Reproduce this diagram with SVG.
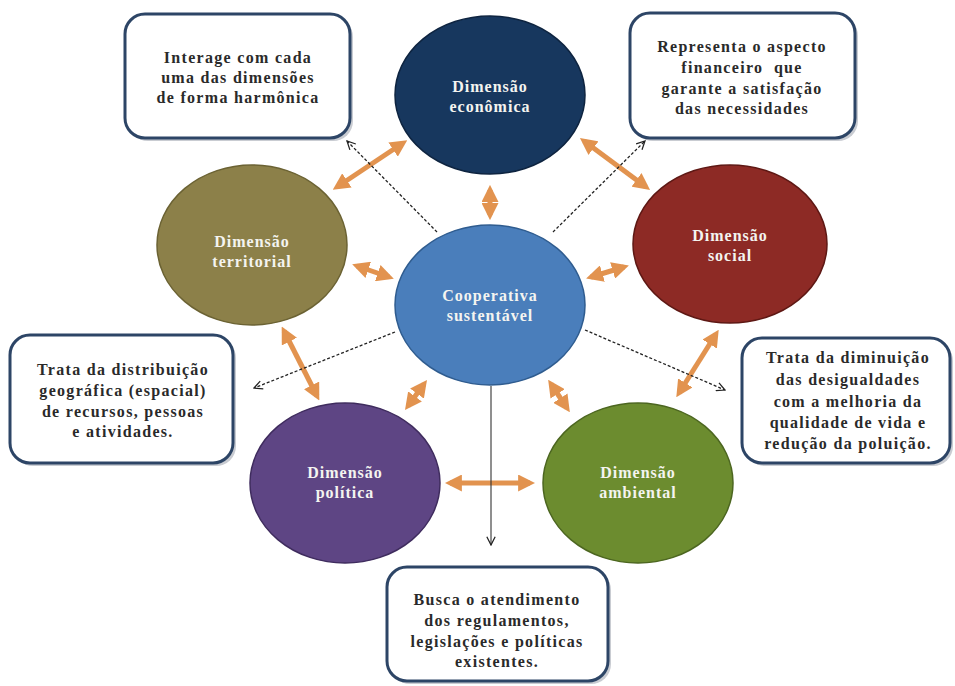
<svg xmlns="http://www.w3.org/2000/svg" width="955" height="686" viewBox="0 0 955 686">
<style>
.box{fill:#fff;stroke:#2d4566;stroke-width:3}
.shadow{fill:#c9ccd2}
.bt{font-family:"Liberation Serif",serif;font-weight:bold;font-size:16px;fill:#2a2a2a;text-anchor:middle;letter-spacing:1.3px}
.et{font-family:"Liberation Serif",serif;font-weight:bold;font-size:16px;fill:#f4f4f0;text-anchor:middle;letter-spacing:1px}
.oa{stroke:#e2934f;stroke-width:5;fill:none;marker-start:url(#oh);marker-end:url(#oh)}
.da{stroke:#222;stroke-width:1.3;fill:none;stroke-dasharray:3 2;marker-end:url(#vh)}
</style>
<defs>
<marker id="oh" viewBox="0 0 10 10" refX="7" refY="5" markerWidth="3.4" markerHeight="3.4" orient="auto-start-reverse" markerUnits="strokeWidth">
<path d="M0,0 L10,5 L0,10 Z" fill="#e2934f"/>
</marker>
<marker id="vh" viewBox="0 0 12 12" refX="11" refY="6" markerWidth="10" markerHeight="10" orient="auto" markerUnits="userSpaceOnUse">
<path d="M1,1 L11,6 L1,11" fill="none" stroke="#222" stroke-width="1.5"/>
</marker>
</defs>
<rect width="955" height="686" fill="#fff"/>

<g id="connectors">
<line class="oa" x1="337" y1="187" x2="403" y2="143"/>
<line class="oa" x1="584" y1="141" x2="646" y2="187"/>
<line class="oa" x1="490" y1="190" x2="490" y2="215"/>
<line class="oa" x1="357" y1="266" x2="389" y2="277"/>
<line class="oa" x1="591" y1="277" x2="624" y2="267"/>
<line class="oa" x1="284" y1="331" x2="317" y2="396"/>
<line class="oa" x1="424" y1="384" x2="408" y2="406"/>
<line class="oa" x1="551" y1="384" x2="567" y2="408"/>
<line class="oa" x1="716" y1="334" x2="679" y2="393"/>
<line class="oa" x1="450" y1="483" x2="530" y2="483"/>
<line class="da" x1="437" y1="232" x2="347" y2="141"/>
<line class="da" x1="553" y1="232" x2="645" y2="141"/>
<line class="da" x1="395" y1="332" x2="254" y2="388"/>
<line class="da" x1="585" y1="330" x2="725" y2="390"/>
<line class="da" x1="491" y1="386" x2="491" y2="545" style="stroke-dasharray:none;stroke:#333;stroke-width:1.1"/>
</g>

<g id="box-tl">
<rect class="shadow" x="128" y="17" width="225" height="124" rx="20"/>
<rect class="box" x="125" y="14" width="225" height="124" rx="20"/>
<text class="bt" x="238" y="63">Interage com cada</text>
<text class="bt" x="238" y="83">uma das dimensões</text>
<text class="bt" x="238" y="103">de forma harmônica</text>
</g>

<g id="box-tr">
<rect class="shadow" x="633" y="16" width="225" height="125" rx="20"/>
<rect class="box" x="630" y="13" width="225" height="125" rx="20"/>
<text class="bt" x="742" y="52">Representa o aspecto</text>
<text class="bt" x="742" y="73" xml:space="preserve">financeiro  que</text>
<text class="bt" x="742" y="94">garante a satisfação</text>
<text class="bt" x="742" y="114">das necessidades</text>
</g>

<g id="box-l">
<rect class="shadow" x="13" y="338" width="223" height="128" rx="20"/>
<rect class="box" x="10" y="335" width="223" height="128" rx="20"/>
<text class="bt" x="123" y="375">Trata da distribuição</text>
<text class="bt" x="123" y="396">geográfica (espacial)</text>
<text class="bt" x="123" y="417">de recursos, pessoas</text>
<text class="bt" x="123" y="437">e atividades.</text>
</g>

<g id="box-r">
<rect class="shadow" x="745" y="341" width="208" height="125" rx="20"/>
<rect class="box" x="742" y="338" width="208" height="125" rx="20"/>
<text class="bt" x="848" y="363">Trata da diminuição</text>
<text class="bt" x="848" y="385">das desigualdades</text>
<text class="bt" x="848" y="407">com a melhoria da</text>
<text class="bt" x="848" y="428">qualidade de vida e</text>
<text class="bt" x="848" y="449">redução da poluição.</text>
</g>

<g id="box-b">
<rect class="shadow" x="390" y="570" width="221" height="114" rx="20"/>
<rect class="box" x="387" y="567" width="221" height="114" rx="20"/>
<text class="bt" x="497" y="605">Busca o atendimento</text>
<text class="bt" x="497" y="626">dos regulamentos,</text>
<text class="bt" x="497" y="647">legislações e políticas</text>
<text class="bt" x="497" y="667">existentes.</text>
</g>

<g id="economica">
<ellipse cx="490" cy="95" rx="95" ry="79" fill="#17375e" stroke="#0e2440" stroke-width="1.5"/>
<text class="et" x="490" y="92">Dimensão</text>
<text class="et" x="490" y="112">econômica</text>
</g>

<g id="territorial">
<ellipse cx="252" cy="245" rx="95" ry="80" fill="#8c8049" stroke="#6b6233" stroke-width="1.5"/>
<text class="et" x="252" y="247">Dimensão</text>
<text class="et" x="252" y="267">territorial</text>
</g>

<g id="cooperativa">
<ellipse cx="490" cy="305" rx="95" ry="80" fill="#4a7ebb" stroke="#2f5c8f" stroke-width="1.5"/>
<text class="et" x="490" y="301">Cooperativa</text>
<text class="et" x="490" y="321">sustentável</text>
</g>

<g id="social">
<ellipse cx="730" cy="244" rx="97" ry="79" fill="#8d2a25" stroke="#5e1814" stroke-width="1.5"/>
<text class="et" x="730" y="241">Dimensão</text>
<text class="et" x="730" y="261">social</text>
</g>

<g id="politica">
<ellipse cx="345" cy="483" rx="95" ry="80" fill="#5e4584" stroke="#3f2c5e" stroke-width="1.5"/>
<text class="et" x="345" y="478">Dimensão</text>
<text class="et" x="345" y="498">política</text>
</g>

<g id="ambiental">
<ellipse cx="638" cy="483" rx="95" ry="80" fill="#6c8c2f" stroke="#4c6620" stroke-width="1.5"/>
<text class="et" x="638" y="478">Dimensão</text>
<text class="et" x="638" y="498">ambiental</text>
</g>
</svg>
